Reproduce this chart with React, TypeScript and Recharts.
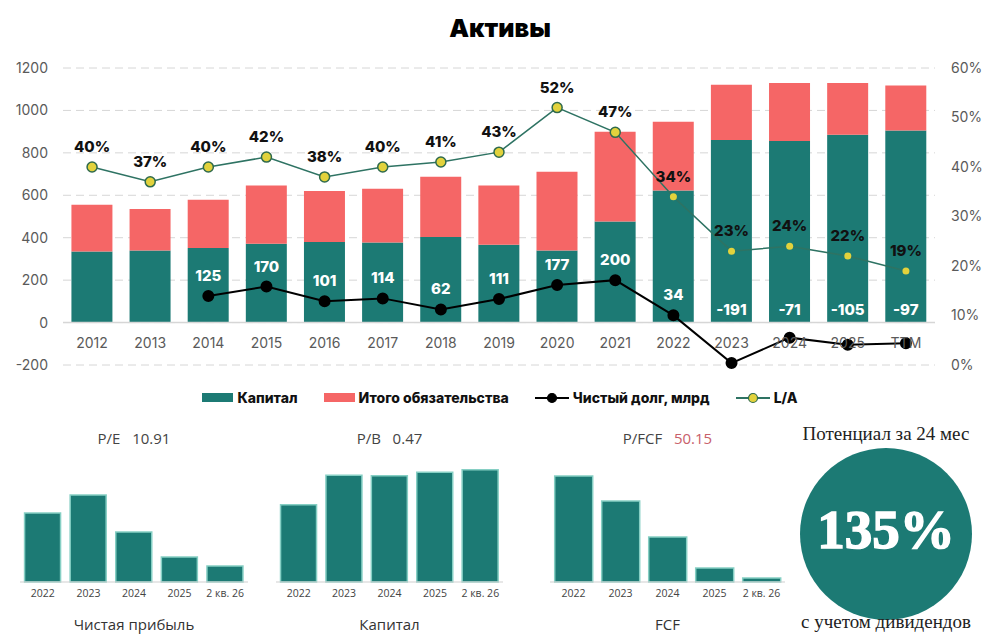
import React from 'react';
import {
  ComposedChart,
  BarChart,
  Bar,
  Line,
  XAxis,
  YAxis,
  CartesianGrid,
  ReferenceLine,
  LabelList,
} from 'recharts';

const years = ['2012', '2013', '2014', '2015', '2016', '2017', '2018', '2019', '2020', '2021', '2022', '2023', '2024', '2025', 'TTM'];
const capital = [335, 340, 351, 372, 380, 378, 403, 367, 340, 477, 623, 861, 856, 885, 905];
const liabilities = [220, 195, 228, 274, 240, 253, 284, 279, 371, 423, 324, 260, 273, 244, 212];
const netDebt = [null, null, 125, 170, 101, 114, 62, 111, 177, 200, 34, -191, -71, -105, -97];
const laRatio = [40, 37, 40, 42, 38, 40, 41, 43, 52, 47, 34, 23, 24, 22, 19];

const leftTicks = [-200, 0, 200, 400, 600, 800, 1000, 1200];
const rightTicks = [0, 10, 20, 30, 40, 50, 60];

const smallYears = ['2022', '2023', '2024', '2025', '2 кв. 26'];
const netProfit = [69, 87, 50, 25, 16];
const equity = [623, 861, 856, 885, 905];
const fcf = [106, 81, 45, 14, 4];

const TEAL = '#1c7a74';
const SALMON = '#f56666';
const YELLOW = '#e2d23c';
const LA_LINE = '#2e7363';
const MAIN_FONT = 'Inter, "DejaVu Sans", sans-serif';
const SMALL_FONT = '"Open Sans", "Noto Sans", sans-serif';
const SERIF = '"Liberation Serif", "DejaVu Serif", serif';

const mainData = years.map((year, i) => ({
  year,
  capital: capital[i],
  liabilities: liabilities[i],
  netDebt: netDebt[i],
  la: laRatio[i],
}));

const XTick = (props: any) => {
  const { x, y, payload } = props;
  return (
    <text x={x} y={y - 35} dy="0.71em" textAnchor="middle" fill="#5a5a5a" fontSize={14} fontFamily={MAIN_FONT}>
      {payload.value}
    </text>
  );
};

const laDot = (props: any) => {
  const { cx, cy, index } = props;
  if (index >= 10) {
    return <circle key={`la-${index}`} cx={cx} cy={cy} r={3.5} fill={YELLOW} />;
  }
  return <circle key={`la-${index}`} cx={cx} cy={cy} r={5} fill={YELLOW} stroke="#2f6a4c" strokeWidth={1.5} />;
};

const laLabel = (props: any) => {
  const { x, y, value } = props;
  return (
    <text x={x} y={y - 15} textAnchor="middle" fill="#111" fontSize={15} fontWeight={800} fontFamily={MAIN_FONT}>
      {value}%
    </text>
  );
};

const debtLabelPositive = (props: any) => {
  const { x, y, value } = props;
  if (value == null || value < 0) return null;
  return (
    <text x={x} y={y - 15} textAnchor="middle" fill="#fff" fontSize={15} fontWeight={800} fontFamily={MAIN_FONT}>
      {value}
    </text>
  );
};

const debtLabelNegative = (props: any) => {
  const { x, y, width, height, value } = props;
  if (value == null || value >= 0) return null;
  return (
    <text x={x + width / 2} y={y + height - 8} textAnchor="middle" fill="#fff" fontSize={15} fontWeight={800} fontFamily={MAIN_FONT}>
      {value}
    </text>
  );
};

function MiniBars({ values, max, left, width, title, titleValue, valueColor, caption }: any) {
  const data = smallYears.map((period, i) => ({ period, value: values[i] }));
  return (
    <div style={{ position: 'absolute', left, top: 0, width }}>
      <div
        style={{
          position: 'absolute',
          top: 428,
          width: '100%',
          textAlign: 'center',
          fontFamily: SMALL_FONT,
          fontSize: 15,
          color: '#444',
          whiteSpace: 'pre',
        }}
      >
        {title}
        <span style={{ color: valueColor || '#444' }}>{titleValue}</span>
      </div>
      <div style={{ position: 'absolute', top: 462 }}>
        <BarChart width={width} height={144} data={data} margin={{ top: 0, right: 0, bottom: 0, left: 0 }} barCategoryGap="10%">
          <XAxis
            dataKey="period"
            height={24}
            tickLine={false}
            axisLine={{ stroke: '#cfcfcf' }}
            tick={{ fill: '#444', fontSize: 10.5, fontFamily: SMALL_FONT }}
            interval={0}
          />
          <YAxis hide domain={[0, max]} />
          <Bar dataKey="value" fill={TEAL} stroke="#86cfc4" strokeWidth={1.5} isAnimationActive={false} />
        </BarChart>
      </div>
      <div
        style={{
          position: 'absolute',
          top: 614,
          width: '100%',
          textAlign: 'center',
          fontFamily: SMALL_FONT,
          fontSize: 15,
          color: '#333',
        }}
      >
        {caption}
      </div>
    </div>
  );
}

function LegendItem({ kind, label }: { kind: string; label: string }) {
  let icon: React.ReactNode = null;
  if (kind === 'capital' || kind === 'liab') {
    icon = <span style={{ display: 'inline-block', width: 31, height: 9, background: kind === 'capital' ? TEAL : SALMON }} />;
  } else {
    const isDebt = kind === 'debt';
    icon = (
      <svg width={34} height={12}>
        <line x1={0} y1={6} x2={34} y2={6} stroke={isDebt ? '#000' : LA_LINE} strokeWidth={2} />
        <circle cx={17} cy={6} r={4.5} fill={isDebt ? '#000' : YELLOW} stroke={isDebt ? '#000' : '#2f6a4c'} strokeWidth={1.2} />
      </svg>
    );
  }
  return (
    <div style={{ display: 'flex', alignItems: 'center', gap: 4 }}>
      {icon}
      <span style={{ fontFamily: MAIN_FONT, fontWeight: 800, fontSize: 14, color: '#111' }}>{label}</span>
    </div>
  );
}

export default function App() {
  return (
    <div style={{ position: 'absolute', left: 0, top: 0, width: 1000, height: 634, background: '#fff', overflow: 'hidden' }}>
      <div
        style={{
          position: 'absolute',
          top: 13,
          width: 1000,
          textAlign: 'center',
          fontFamily: MAIN_FONT,
          fontWeight: 900,
          fontSize: 25,
          color: '#000',
        }}
      >
        Активы
      </div>

      <div style={{ position: 'absolute', left: 0, top: 0 }}>
        <ComposedChart
          width={1000}
          height={380}
          data={mainData}
          margin={{ top: 68, right: 0, bottom: 0, left: 0 }}
          barCategoryGap="14.5%"
        >
          <CartesianGrid yAxisId="left" vertical={false} stroke="#d6d6d6" strokeDasharray="8 5" />
          <XAxis dataKey="year" height={15} tickLine={false} axisLine={false} tick={<XTick />} interval={0} />
          <YAxis
            yAxisId="left"
            width={63}
            domain={[-200, 1200]}
            ticks={leftTicks}
            tickLine={false}
            axisLine={false}
            tickMargin={9}
            tick={{ fill: '#5a5a5a', fontSize: 14, fontFamily: MAIN_FONT }}
          />
          <YAxis
            yAxisId="right"
            orientation="right"
            width={65}
            domain={[0, 60]}
            ticks={rightTicks}
            tickFormatter={(v: number) => `${v}%`}
            tickLine={false}
            axisLine={false}
            tickMargin={10}
            tick={{ fill: '#5a5a5a', fontSize: 14, fontFamily: MAIN_FONT }}
          />
          <ReferenceLine yAxisId="left" y={0} stroke="#d6d6d6" strokeWidth={1.5} />

          {/* L/A line sits behind the bars */}
          <Line
            yAxisId="right"
            dataKey="la"
            stroke={LA_LINE}
            strokeWidth={1.5}
            dot={false}
            activeDot={false}
            isAnimationActive={false}
          />

          <Bar yAxisId="left" dataKey="capital" stackId="a" fill={TEAL} isAnimationActive={false}>
            <LabelList dataKey="netDebt" content={debtLabelNegative} />
          </Bar>
          <Bar yAxisId="left" dataKey="liabilities" stackId="a" fill={SALMON} isAnimationActive={false} />

          <Line
            yAxisId="left"
            dataKey="netDebt"
            stroke="#000"
            strokeWidth={2}
            dot={{ r: 5, fill: '#000', stroke: '#000' }}
            activeDot={false}
            isAnimationActive={false}
          >
            <LabelList dataKey="netDebt" content={debtLabelPositive} />
          </Line>

          {/* L/A markers and labels on top */}
          <Line
            yAxisId="right"
            dataKey="la"
            stroke="none"
            dot={laDot}
            activeDot={false}
            isAnimationActive={false}
          >
            <LabelList dataKey="la" content={laLabel} />
          </Line>
        </ComposedChart>
      </div>

      <div
        style={{
          position: 'absolute',
          top: 389,
          left: 0,
          width: 1000,
          display: 'flex',
          justifyContent: 'center',
          gap: 26,
        }}
      >
        <LegendItem kind="capital" label="Капитал" />
        <LegendItem kind="liab" label="Итого обязательства" />
        <LegendItem kind="debt" label="Чистый долг, млрд" />
        <LegendItem kind="la" label="L/A" />
      </div>

      <MiniBars values={netProfit} max={120} left={20} width={228} title={'P/E   '} titleValue="10.91" caption="Чистая прибыль" />
      <MiniBars values={equity} max={967} left={276} width={227} title={'P/B   '} titleValue="0.47" caption="Капитал" />
      <MiniBars values={fcf} max={120} left={550} width={235} title={'P/FCF   '} titleValue="50.15" valueColor="#c8606a" caption="FCF" />

      <div
        style={{
          position: 'absolute',
          top: 423,
          left: 786,
          width: 200,
          textAlign: 'center',
          fontFamily: SERIF,
          fontSize: 19,
          color: '#222',
        }}
      >
        Потенциал за 24 мес
      </div>
      <div
        style={{
          position: 'absolute',
          left: 800,
          top: 448,
          width: 172,
          height: 172,
          borderRadius: '50%',
          background: TEAL,
          display: 'flex',
          alignItems: 'center',
          justifyContent: 'center',
        }}
      >
        <span
          style={{
            fontFamily: SERIF,
            fontWeight: 700,
            fontSize: 55,
            color: '#fff',
            marginTop: -10,
            WebkitTextStroke: '1.5px #fff',
          }}
        >
          135%
        </span>
      </div>
      <div
        style={{
          position: 'absolute',
          top: 611,
          left: 786,
          width: 200,
          textAlign: 'center',
          fontFamily: SERIF,
          fontSize: 19,
          color: '#222',
        }}
      >
        с учетом дивидендов
      </div>
    </div>
  );
}
